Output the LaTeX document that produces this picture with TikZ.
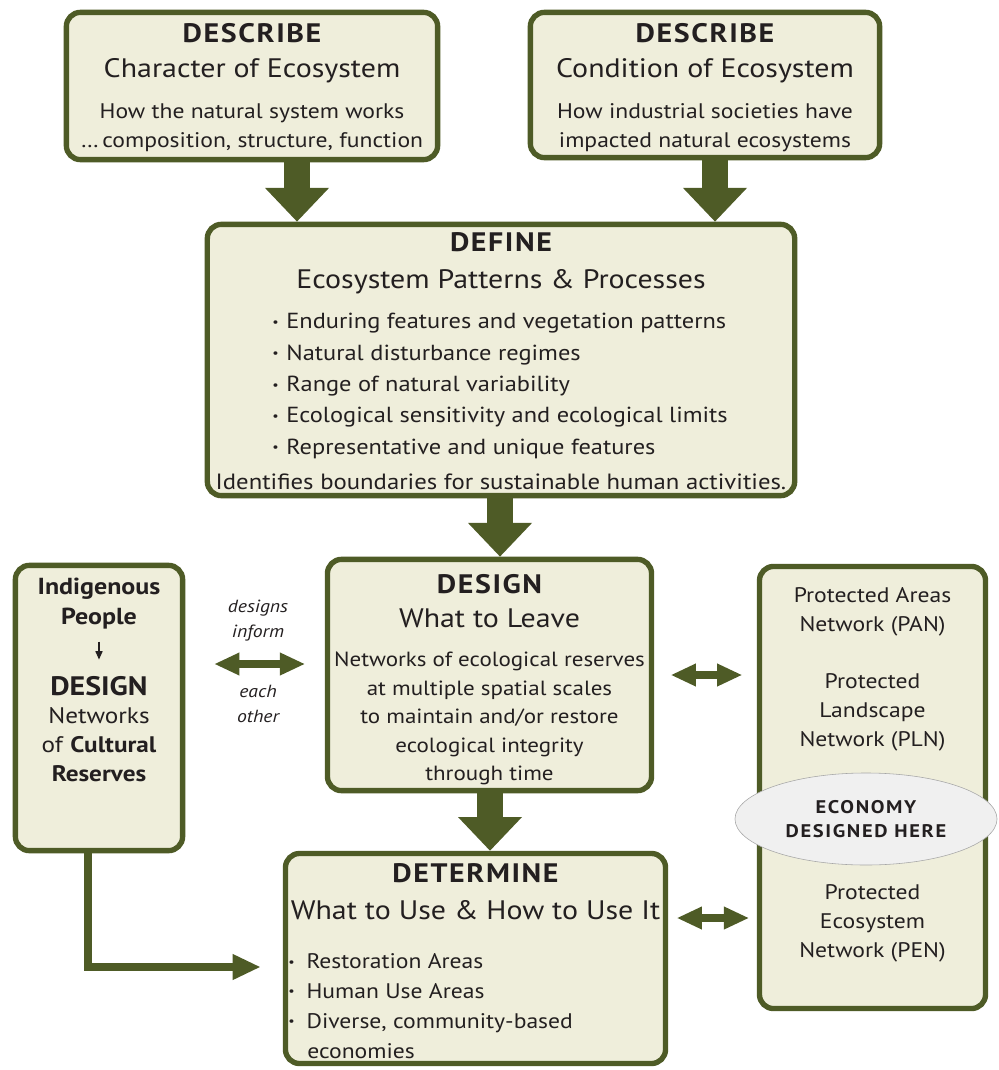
\documentclass[tikz,border=0pt]{standalone}
\usepackage{fontspec}
\setmainfont[FakeStretch=1.12]{PT Sans}
\usepackage{xcolor}
\usetikzlibrary{arrows.meta,backgrounds}
\usetikzlibrary{shapes.geometric}
\definecolor{leafgreen}{HTML}{4E5B26}
\definecolor{cream}{HTML}{EFEEDB}
\definecolor{ink}{HTML}{231F20}
\tikzstyle{roundbox}=[draw=leafgreen, line width=3.8pt, fill=cream, rounded corners=10pt]
\tikzstyle{headtxt}=[font=\fontsize{19}{22}\selectfont\bfseries\addfontfeature{LetterSpace=6}, inner sep=0pt, anchor=base, text=ink]
\tikzstyle{subtxt}=[font=\fontsize{19}{22}\selectfont, inner sep=0pt, anchor=base, text=ink]
\tikzstyle{bodytxt}=[font=\fontsize{15}{20.6}\selectfont, inner sep=0pt, anchor=north, align=center, text=ink]
\tikzstyle{notetxt}=[font=\fontsize{12.5}{17.7}\selectfont\itshape, inner sep=0pt, anchor=north, align=center, text=ink]
\tikzstyle{bigarrow}=[draw=leafgreen, line width=18pt, -{Triangle[width=44pt,length=24pt]}]
\tikzstyle{twoway}=[draw=leafgreen, line width=5pt, {Triangle[width=15pt,length=18pt]}-{Triangle[width=15pt,length=18pt]}]
\tikzstyle{elbow}=[draw=leafgreen, line width=5pt, -{Triangle[width=17pt,length=20pt]}]
\newcommand{\bul}[1]{\makebox[#1][l]{\raisebox{1.6pt}{\fontsize{9}{9}\selectfont\textbullet}}}

\begin{document}
\begin{tikzpicture}[x=0.025cm,y=-0.025cm]
	\useasboundingbox (0,0) rectangle (998,1070);
	% the boxes
	\node[roundbox, minimum width=9.28cm, minimum height=3.68cm] (char) at (252,86) {};
	\node[roundbox, minimum width=8.73cm, minimum height=3.63cm] (cond) at (705,85) {};
	\node[roundbox, minimum width=14.68cm, minimum height=6.78cm] (def) at (501,360) {};
	\node[roundbox, minimum width=8.1cm, minimum height=5.78cm] (design) at (489.5,675) {};
	\node[roundbox, minimum width=9.5cm, minimum height=5.25cm] (determ) at (475.5,958.5) {};
	\node[roundbox, minimum width=4.18cm, minimum height=7.13cm] (cult) at (99,708) {};
	\node[roundbox, minimum width=5.65cm, minimum height=11.05cm] (prot) at (872.5,787.5) {};
	\node[ellipse, draw=gray!70, thin, fill=gray!12, minimum width=6.55cm, minimum height=2.3cm, align=center,
		font=\fontsize{13}{16.5}\selectfont\bfseries\addfontfeature{LetterSpace=9}, text=ink] (econ) at (866,819) {ECONOMY\\DESIGNED HERE};

	% describe
	\node[headtxt] (charhd) at (252,43) {DESCRIBE};
	\node[subtxt] (charsub) at (252,78) {Character of Ecosystem};
	\node[bodytxt] (charbody) at (252,103) {How the natural system works\\\ldots\,composition, structure, function};
	\node[headtxt] (condhd) at (705,43) {DESCRIBE};
	\node[subtxt] (condsub) at (705,78) {Condition of Ecosystem};
	\node[bodytxt] (condbody) at (705,103) {How industrial societies have\\impacted natural ecosystems};

	% define
	\node[headtxt] (defhd) at (501,252) {DEFINE};
	\node[subtxt] (defsub) at (501,288) {Ecosystem Patterns \& Processes};
	\node[bodytxt, align=left, anchor=north west, font=\fontsize{15.5}{22.3}\selectfont] (deflist) at (272,313)
		{\bul{10pt}Enduring features and vegetation patterns\\
		 \bul{10pt}Natural disturbance regimes\\
		 \bul{10pt}Range of natural variability\\
		 \bul{10pt}Ecological sensitivity and ecological limits\\
		 \bul{10pt}Representative and unique features};
	\node[bodytxt, anchor=base, font=\fontsize{15.7}{20}\selectfont] (defend) at (501,489) {Identifies boundaries for sustainable human activities.};

	% design
	\node[headtxt] (dsghd) at (489.5,593) {DESIGN};
	\node[subtxt] (dsgsub) at (489.5,627) {What to Leave};
	\node[bodytxt, font=\fontsize{14.6}{20.2}\selectfont] (dsgbody) at (489.5,652)
		{Networks of ecological reserves\\at multiple spatial scales\\to maintain and/or restore\\ecological integrity\\through time};

	% determine
	\node[headtxt] (dethd) at (475.5,882) {DETERMINE};
	\node[subtxt] (detsub) at (475.5,919) {What to Use \& How to Use It};
	\node[bodytxt, align=left, anchor=north west, font=\fontsize{15}{21.3}\selectfont] (detlist) at (288,953)
		{\bul{13pt}Restoration Areas\\
		 \bul{13pt}Human Use Areas\\
		 \bul{13pt}Diverse, community-based\\
		 \hspace*{13.5pt}economies};

	% cultural reserves
	\node[bodytxt, font=\fontsize{16.5}{21.3}\selectfont\bfseries] (indig) at (99,578) {Indigenous\\People};
	\node[headtxt, font=\fontsize{19}{22}\selectfont\bfseries] (cdsg) at (99,695) {DESIGN};
	\node[bodytxt, font=\fontsize{16}{20.6}\selectfont] (cnet) at (99,707) {Networks\\of \textbf{Cultural}\\\textbf{Reserves}};
	\draw[ink, line width=1pt, -{Triangle[width=5pt,length=6pt]}, shorten <=0.3cm, shorten >=0.4cm] (indig) -- (cdsg);

	% protected networks
	\node[bodytxt] (pan) at (872.5,587) {Protected Areas\\Network (PAN)};
	\node[bodytxt] (pln) at (872.5,673) {Protected\\Landscape\\Network (PLN)};
	\node[bodytxt] (pen) at (872.5,884) {Protected\\Ecosystem\\Network (PEN)};

	% labels of the two-way arrow
	\node[notetxt] (inform) at (258,600) {designs\\inform};
	\node[notetxt] (other) at (258,685) {each\\other};

	\coordinate (xa) at (297,0);
	\coordinate (xb) at (715,0);
	\coordinate (xc) at (500,0);
	\coordinate (xd) at (490,0);
	\coordinate (xl) at (88,0);
	\coordinate (ya) at (0,664);
	\coordinate (yb) at (0,675);
	\coordinate (yc) at (0,918);
	\coordinate (yl) at (0,967);
	\begin{pgfonlayer}{background}
		\draw[bigarrow] (char.south -| xa) -- (def.north -| xa);
		\draw[bigarrow] (cond.south -| xb) -- (def.north -| xb);
		\draw[bigarrow] (def.south -| xc) -- (design.north -| xc);
		\draw[bigarrow] (design.south -| xd) -- (determ.north -| xd);
		\draw[twoway, shorten <=0.72cm, shorten >=0.49cm] (cult.east |- ya) -- (design.west |- ya);
		\draw[twoway, shorten <=0.41cm, shorten >=0.36cm] (design.east |- yb) -- (prot.west |- yb);
		\draw[twoway, shorten <=0.21cm, shorten >=0.19cm] (determ.east |- yc) -- (prot.west |- yc);
		\draw[elbow, shorten >=0.55cm] (cult.south -| xl) |- (determ.west |- yl);
	\end{pgfonlayer}
\end{tikzpicture}
\end{document}
